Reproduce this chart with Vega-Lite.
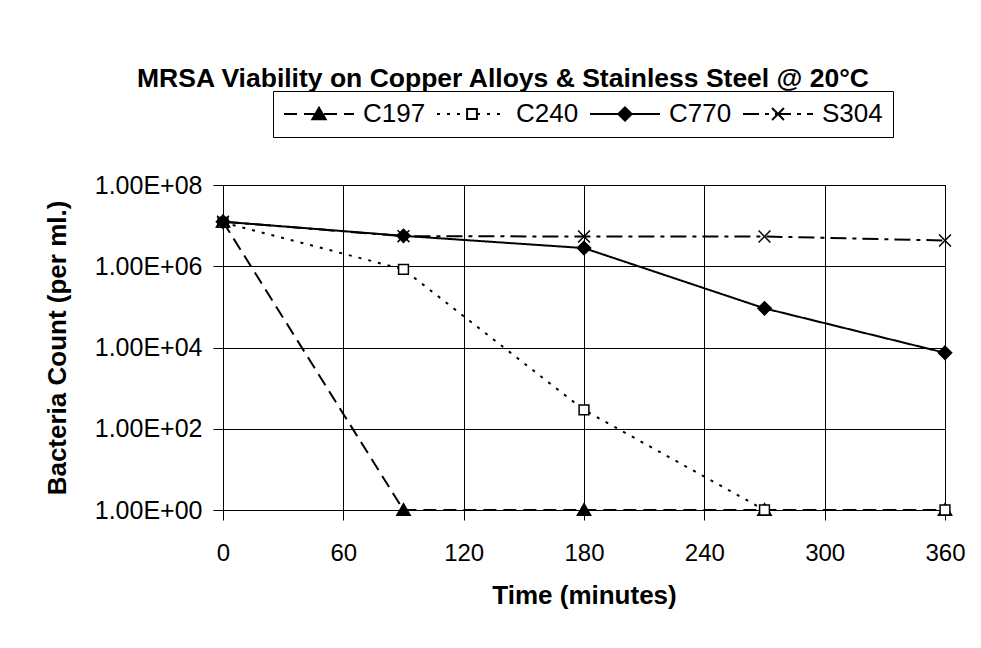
{
  "$schema": "https://vega.github.io/schema/vega-lite/v6.json",
  "width": 722,
  "height": 325,
  "autosize": {"type": "none"},
  "padding": {"left": 223, "top": 185, "right": 36, "bottom": 138},
  "background": "white",
  "title": {
    "text": "MRSA Viability on Copper Alloys & Stainless Steel @ 20°C",
    "anchor": "start",
    "frame": "group",
    "dx": -86,
    "offset": -23,
    "baseline": "alphabetic",
    "font": "Liberation Sans",
    "fontSize": 26.5,
    "fontWeight": "bold",
    "color": "black"
  },
  "data": {
    "values": [
      {"series": "C197", "time": 0, "count": 12500000},
      {"series": "C197", "time": 90, "count": 1},
      {"series": "C197", "time": 180, "count": 1},
      {"series": "C197", "time": 270, "count": 1},
      {"series": "C197", "time": 360, "count": 1},
      {"series": "C240", "time": 0, "count": 12000000},
      {"series": "C240", "time": 90, "count": 840000},
      {"series": "C240", "time": 180, "count": 290},
      {"series": "C240", "time": 270, "count": 1},
      {"series": "C240", "time": 360, "count": 1},
      {"series": "C770", "time": 0, "count": 12500000},
      {"series": "C770", "time": 90, "count": 5600000},
      {"series": "C770", "time": 180, "count": 2800000},
      {"series": "C770", "time": 270, "count": 92000},
      {"series": "C770", "time": 360, "count": 7400},
      {"series": "S304", "time": 0, "count": 12500000},
      {"series": "S304", "time": 90, "count": 5500000},
      {"series": "S304", "time": 180, "count": 5400000},
      {"series": "S304", "time": 270, "count": 5400000},
      {"series": "S304", "time": 360, "count": 4300000}
    ]
  },
  "encoding": {
    "x": {
      "field": "time",
      "type": "quantitative",
      "scale": {"domain": [0, 360], "nice": false, "zero": false},
      "axis": {
        "values": [0, 60, 120, 180, 240, 300, 360],
        "title": "Time (minutes)",
        "grid": true,
        "gridColor": "black",
        "gridOpacity": 1,
        "gridWidth": 1,
        "domainColor": "black",
        "tickColor": "black",
        "tickSize": 10,
        "labelFont": "Liberation Sans",
        "labelFontSize": 24,
        "labelColor": "black",
        "labelBaseline": "alphabetic",
        "labelPadding": 40,
        "labelFlush": false,
        "titleFont": "Liberation Sans",
        "titleFontSize": 26,
        "titleFontWeight": "bold",
        "titleColor": "black",
        "titleBaseline": "alphabetic",
        "titleY": 93
      }
    },
    "y": {
      "field": "count",
      "type": "quantitative",
      "scale": {"type": "log", "domain": [1, 100000000], "nice": false},
      "axis": {
        "values": [1, 100, 10000, 1000000, 100000000],
        "labelExpr": "'1.00E+' + (round(log(datum.value)/LN10) < 10 ? '0' : '') + round(log(datum.value)/LN10)",
        "title": "Bacteria Count (per ml.)",
        "grid": true,
        "gridColor": "black",
        "gridOpacity": 1,
        "gridWidth": 1,
        "domainColor": "black",
        "tickColor": "black",
        "tickSize": 10,
        "labelFont": "Liberation Sans",
        "labelFontSize": 25,
        "labelColor": "black",
        "labelPadding": 11,
        "labelFlush": false,
        "titleFont": "Liberation Sans",
        "titleFontSize": 26,
        "titleFontWeight": "bold",
        "titleColor": "black",
        "titleAngle": -90,
        "titleAlign": "center",
        "titleBaseline": "middle",
        "titleX": -166,
        "titleY": 162.5
      }
    }
  },
  "layer": [
    {
      "mark": {"type": "line", "color": "black", "strokeWidth": 2},
      "encoding": {
        "strokeDash": {
          "field": "series",
          "type": "nominal",
          "scale": {
            "domain": ["C197", "C240", "C770", "S304"],
            "range": [[13, 7], [3, 7], [1, 0], [16, 6, 4, 6]]
          },
          "legend": {
            "orient": "none",
            "legendX": 50,
            "legendY": -94,
            "direction": "horizontal",
            "title": null,
            "symbolType": "stroke",
            "symbolSize": 4900,
            "symbolStrokeWidth": 2,
            "symbolStrokeColor": "black",
            "clipHeight": 26,
            "labelFont": "Liberation Sans",
            "labelFontSize": 26,
            "labelColor": "black",
            "labelOffset": 8,
            "columnPadding": 10,
            "padding": 10,
            "strokeColor": "black",
            "fillColor": "white",
            "zindex": 1
          }
        }
      }
    },
    {
      "mark": {"type": "point", "filled": true, "opacity": 1, "size": 4900, "stroke": "black", "strokeWidth": 1.5},
      "encoding": {
        "shape": {
          "field": "series",
          "type": "nominal",
          "scale": {
            "range": [
              "M0,-0.18L0.19,0.15L-0.19,0.15Z",
              "M-0.14,-0.14H0.14V0.14H-0.14Z",
              "M0,-0.19L0.19,0L0,0.19L-0.19,0Z",
              "M-0.17,-0.17L0.17,0.17M-0.17,0.17L0.17,-0.17"
            ]
          },
          "legend": {
            "orient": "none",
            "legendX": 50,
            "legendY": -94,
            "direction": "horizontal",
            "title": null,
            "symbolSize": 4900,
            "symbolStrokeWidth": 2,
            "clipHeight": 26,
            "labelFont": "Liberation Sans",
            "labelFontSize": 26,
            "labelColor": "transparent",
            "labelOffset": 8,
            "columnPadding": 10,
            "padding": 10,
            "zindex": 2,
            "encode": {
              "symbols": {
                "update": {
                  "fill": {"signal": "datum.value === 'C240' ? 'white' : 'black'"},
                  "stroke": {"value": "black"},
                  "strokeWidth": {"value": 1.5},
                  "opacity": {"value": 1}
                }
              }
            }
          }
        },
        "fill": {
          "field": "series",
          "type": "nominal",
          "scale": {"range": ["black", "white", "black", "black"]},
          "legend": null
        }
      }
    }
  ],
  "config": {
    "view": {"stroke": "black", "strokeWidth": 1},
    "font": "Liberation Sans"
  }
}
